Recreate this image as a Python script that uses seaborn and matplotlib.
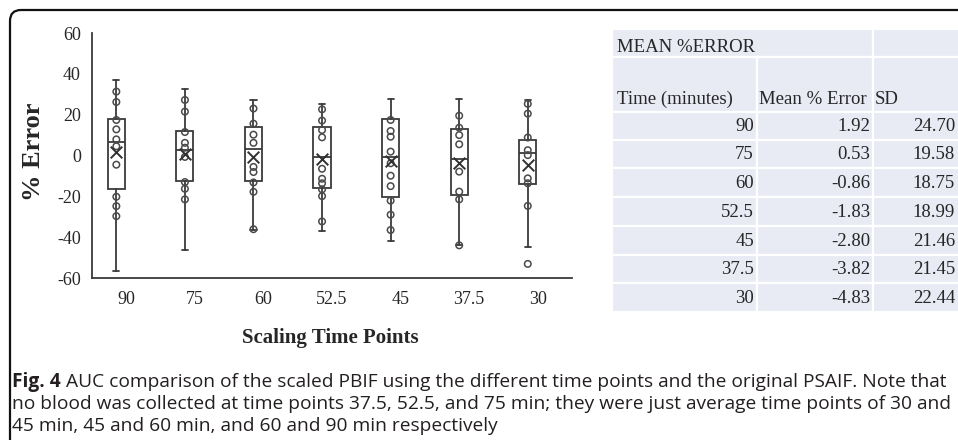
import matplotlib
matplotlib.use("Agg")
import matplotlib.pyplot as plt
from matplotlib.path import Path
import matplotlib.patches as mpatches
import numpy as np
import pandas as pd
import seaborn as sns

# ---- data -------------------------------------------------------------
times = ["90", "75", "60", "52.5", "45", "37.5", "30"]
q1 = [-16.6, -12.7, -12.3, -15.9, -20.5, -19.4, -14.0]
median = [6.5, 2.5, 3.2, -0.6, -0.9, -1.7, 1.1]
q3 = [17.8, 11.9, 14.1, 13.8, 18.0, 12.8, 7.7]
whisker_lo = [-56.6, -46.3, -36.3, -36.9, -42.1, -44.0, -45.0]
whisker_hi = [36.9, 32.4, 27.4, 25.2, 27.8, 27.5, 27.4]
means = [1.92, 0.53, -0.86, -1.83, -2.80, -3.82, -4.83]
sds = [24.70, 19.58, 18.75, 18.99, 21.46, 21.45, 22.44]
outliers = [[], [], [], [], [], [], [-53.1]]

pts_90 = [31.3, 26.2, 17.4, 12.8, 7.9, 4.5, -4.5, -20.2, -24.8, -29.7]
pts_75 = [27.2, 21.5, 11.5, 6.2, 3.8, -0.7, -13.0, -16.3, -21.5]
pts_60 = [23.0, 15.6, 10.2, 6.2, -5.6, -8.1, -13.2, -17.8, -36.1]
pts_52_5 = [22.6, 17.1, 12.5, 8.9, -6.5, -11.4, -13.6, -16.6, -19.9, -32.3]
pts_45 = [17.4, 12.0, 9.2, 1.9, -3.8, -9.9, -15.0, -22.1, -29.0, -36.5]
pts_37_5 = [19.5, 13.6, 10.0, 5.5, -7.9, -17.7, -21.5, -44.0]
pts_30 = [25.3, 20.5, 8.8, 2.6, 0.2, -11.2, -13.6, -24.7]
inner_points = [pts_90, pts_75, pts_60, pts_52_5, pts_45, pts_37_5, pts_30]

y_ticks = [-60, -40, -20, 0, 20, 40, 60]

caption_bold = "Fig. 4"
caption_lines = [
    " AUC comparison of the scaled PBIF using the different time points and the original PSAIF. Note that",
    "no blood was collected at time points 37.5, 52.5, and 75 min; they were just average time points of 30 and",
    "45 min, 45 and 60 min, and 60 and 90 min respectively",
]

# ---- figure -----------------------------------------------------------
sns.set_theme(style="white")
plt.rcParams["font.family"] = ["Liberation Serif", "DejaVu Serif"]

W, H = 958, 440
fig = plt.figure(figsize=(W / 100, H / 100), dpi=100)


def fx(px):
    return px / W


def fy(py):
    return 1 - py / H


ink = "#262626"
line_c = "#3a3a3a"

# rounded panel frame (top-left corner only, open to the right and bottom)
r = 11
verts = [(fx(10), fy(H + 5)), (fx(10), fy(10 + r)), (fx(10), fy(10)),
         (fx(10 + r), fy(10)), (fx(W + 5), fy(10))]
codes = [Path.MOVETO, Path.LINETO, Path.CURVE3, Path.CURVE3, Path.LINETO]
fig.patches.append(mpatches.PathPatch(Path(verts, codes), fill=False, lw=1.6,
                                      edgecolor="#111111", transform=fig.transFigure))

# ---- box plot ---------------------------------------------------------
ax = fig.add_axes([fx(92), fy(278), fx(572) - fx(92), fy(33) - fy(278)])
n = len(times)
box_pos = np.arange(n) - 0.145

stats = [dict(med=median[i], q1=q1[i], q3=q3[i], whislo=whisker_lo[i],
              whishi=whisker_hi[i], fliers=[], label=times[i]) for i in range(n)]
ax.bxp(stats, positions=box_pos, widths=0.25, capwidths=0.09, showfliers=False,
       patch_artist=True,
       boxprops=dict(facecolor="white", edgecolor=line_c, linewidth=1.3),
       medianprops=dict(color=line_c, linewidth=1.3),
       whiskerprops=dict(color=line_c, linewidth=1.3),
       capprops=dict(color=line_c, linewidth=1.3), zorder=2)

pts_df = pd.DataFrame(
    [(box_pos[i], v) for i in range(n) for v in inner_points[i] + outliers[i]],
    columns=["x", "error"])
sns.scatterplot(data=pts_df, x="x", y="error", ax=ax, marker="o", s=22,
                facecolor="none", edgecolor="#4a4a4a", linewidth=1.1, zorder=3)

mean_df = pd.DataFrame({"x": box_pos, "mean": means})
sns.scatterplot(data=mean_df, x="x", y="mean", ax=ax, marker="x", s=70,
                color="#303030", linewidth=1.4, zorder=4)

ax.set_xlim(-0.5, n - 0.5)
ax.set_ylim(-60, 60)
ax.set_yticks(y_ticks)
ax.set_yticklabels([str(t) for t in y_ticks])
ax.set_xticks(np.arange(n))
ax.set_xticklabels(times)
ax.set_xticks(np.arange(n + 1) - 0.5, minor=True)
ax.tick_params(axis="x", which="major", length=0, pad=9, labelsize=13, labelcolor=ink)
ax.tick_params(axis="x", which="minor", length=5, width=1.2, color=line_c, direction="out")
ax.tick_params(axis="y", length=5, width=1.2, color=line_c, direction="out", pad=3,
               labelsize=13, labelcolor=ink)
ax.set_xlabel("")
ax.set_ylabel("")
for side in ["top", "right"]:
    ax.spines[side].set_visible(False)
for side in ["left", "bottom"]:
    ax.spines[side].set_color(line_c)
    ax.spines[side].set_linewidth(1.3)
ax.grid(False)
ax.patch.set_alpha(0)

fig.text(fx(33), fy(152), "% Error", rotation=90, ha="center", va="center",
         fontsize=19, fontweight="bold", color=ink)
fig.text(fx(330), fy(338), "Scaling Time Points", ha="center", va="center",
         fontsize=15, fontweight="bold", color=ink)

# ---- summary table ----------------------------------------------------
cell_bg = "#E8EAF4"
col_edges = [612, 757, 873, 990]
row_edges = [29, 57, 112, 140, 168, 197, 226, 255, 283, 312]


def cell(x0, x1, y0, y1):
    fig.patches.append(mpatches.Rectangle((fx(x0), fy(y1)), fx(x1) - fx(x0),
                                          fy(y0) - fy(y1), transform=fig.transFigure,
                                          facecolor=cell_bg, edgecolor="white",
                                          linewidth=1.6))


cell(col_edges[0], col_edges[2], row_edges[0], row_edges[1])
cell(col_edges[2], col_edges[3], row_edges[0], row_edges[1])
for j in range(1, len(row_edges) - 1):
    for c in range(3):
        cell(col_edges[c], col_edges[c + 1], row_edges[j], row_edges[j + 1])

tsize = 13.5
fig.text(fx(col_edges[0] + 5), fy(row_edges[1] - 5), "MEAN %ERROR", ha="left",
         va="baseline", fontsize=tsize, color=ink)
headers = ["Time (minutes)", "Mean % Error", "SD"]
for c, h in enumerate(headers):
    fig.text(fx(col_edges[c] + 5 if c == 0 else col_edges[c] + 2),
             fy(row_edges[2] - 8), h, ha="left", va="baseline", fontsize=tsize, color=ink)
for i in range(n):
    yb = fy(row_edges[3 + i] - 9)
    fig.text(fx(col_edges[1] - 3), yb, times[i], ha="right", va="baseline",
             fontsize=tsize, color=ink)
    fig.text(fx(col_edges[2] - 3), yb, f"{means[i]:.2f}", ha="right", va="baseline",
             fontsize=tsize, color=ink)
    fig.text(fx(W - 3), yb, f"{sds[i]:.2f}", ha="right", va="baseline",
             fontsize=tsize, color=ink)

# ---- caption ----------------------------------------------------------
cap_family = ["Open Sans", "DejaVu Sans"]
cap_color = "#231F20"
renderer = fig.canvas.get_renderer()


def width_px(txt, size, weight="normal"):
    t = fig.text(0, 0, txt, fontsize=size, fontweight=weight, family=cap_family)
    w = t.get_window_extent(renderer).width
    t.remove()
    return w


x_start = 12
target = 946 - x_start
probe = 10.0
w0 = width_px(caption_bold, probe, "bold") + width_px(caption_lines[0], probe)
cap_size = probe * target / w0

line_y = [382, 404, 426]
tb = fig.text(fx(x_start), fy(line_y[0]), caption_bold, fontsize=cap_size,
              fontweight="bold", family=cap_family, color=cap_color,
              ha="left", va="center")
bold_w = tb.get_window_extent(renderer).width
fig.text(fx(x_start + bold_w), fy(line_y[0]), caption_lines[0], fontsize=cap_size,
         family=cap_family, color=cap_color, ha="left", va="center")
for k in (1, 2):
    fig.text(fx(x_start), fy(line_y[k]), caption_lines[k], fontsize=cap_size,
             family=cap_family, color=cap_color, ha="left", va="center")

fig.savefig("out.png", dpi=100)
